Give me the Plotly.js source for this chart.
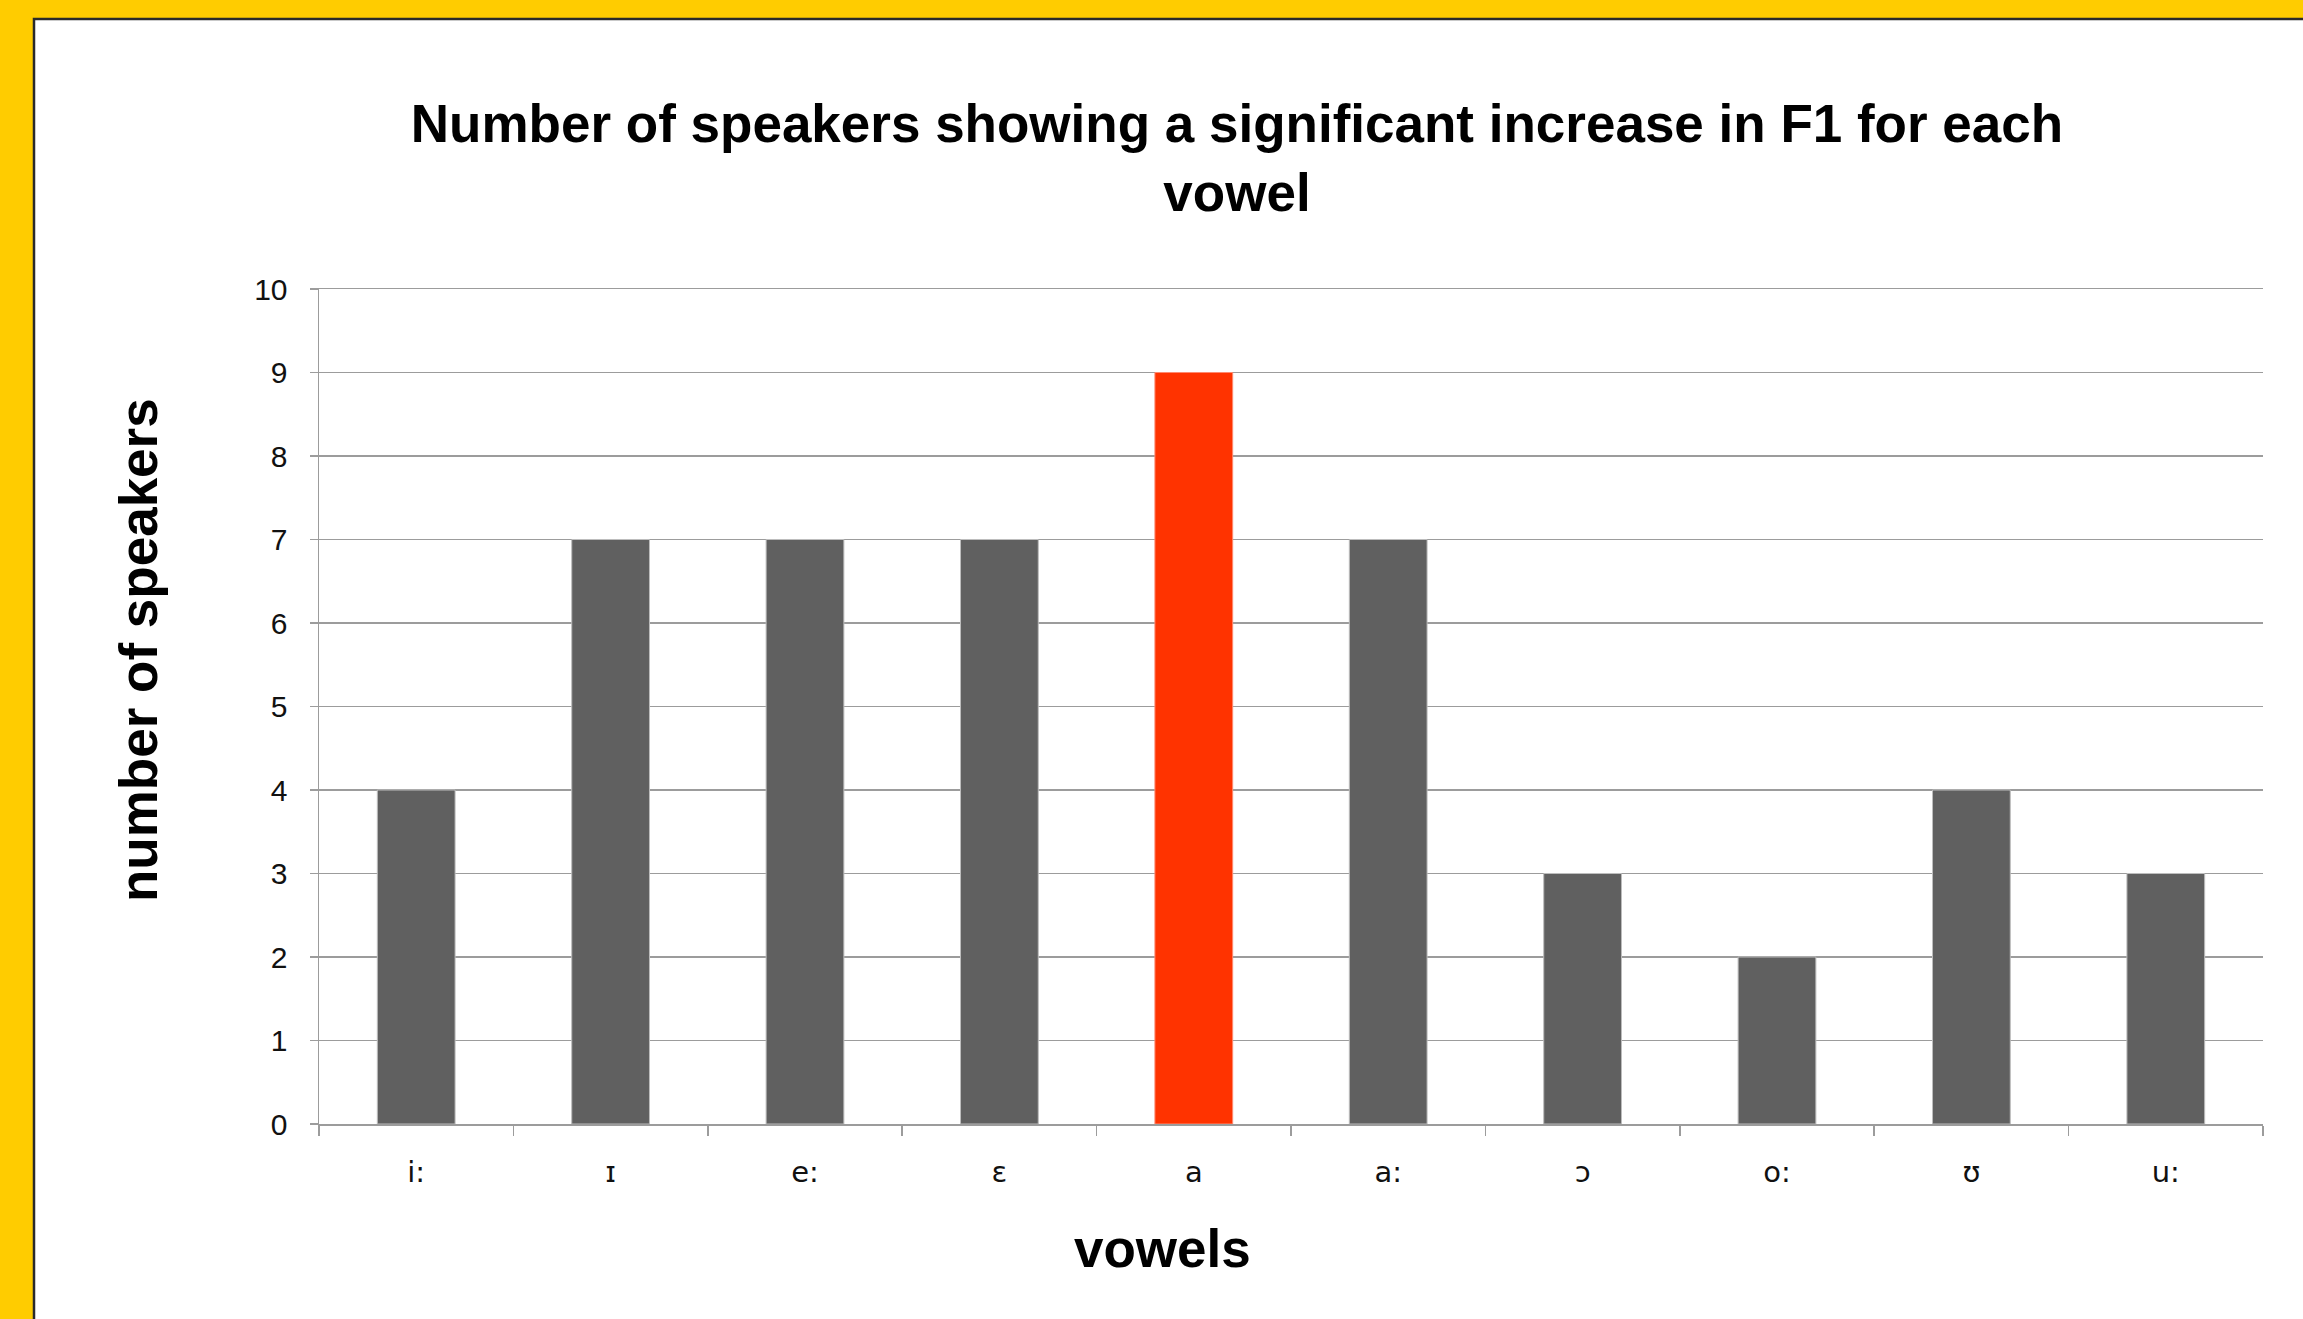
<!DOCTYPE html>
<html>
<head>
<meta charset="utf-8">
<script src="https://cdn.plot.ly/plotly-3.0.1.min.js"></script>
<style>
  html, body { margin: 0; padding: 0; background: #FFCC00; }
  #chart { width: 2303px; height: 1319px; }
</style>
</head>
<body>
<div id="chart"></div>
<script>
// ---- data ----
const vowels = ["i:", "ɪ", "e:", "ɛ", "a", "a:", "ɔ", "o:", "ʊ", "u:"];
const speakers = [4, 7, 7, 7, 9, 7, 3, 2, 4, 3];
const highlightVowel = "a";
const yTicks = [0, 1, 2, 3, 4, 5, 6, 7, 8, 9, 10];

const chartTitle = "Number of speakers showing a significant increase in F1 for each<br>vowel";
const xTitle = "vowels";
const yTitle = "number of speakers";

// ---- styles ----
const grey = "#606060";
const red = "#FF3300";
const barColors = vowels.map(v => v === highlightVowel ? red : grey);
const barEdges = vowels.map(v => v === highlightVowel ? "#ff8a70" : "#bdbdbd");

const W = 2303, H = 1319;
const L = 319, R = 40, T = 289, B = 195;
const plotW = W - L - R, plotH = H - T - B;
const px2x = px => (px - L) / plotW;
const px2y = py => (H - B - py) / plotH;

const trace = {
  type: "bar",
  x: vowels,
  y: speakers,
  marker: { color: barColors, line: { color: barEdges, width: 1 } },
  hoverinfo: "x+y"
};

const gridCol = "#9c9c9c";

const layout = {
  width: W, height: H,
  margin: { l: L, r: R, t: T, b: B, pad: 0 },
  paper_bgcolor: "#FFCC00",
  plot_bgcolor: "rgba(0,0,0,0)",
  showlegend: false,
  bargap: 0.6,
  font: { family: "Liberation Sans, Arial, sans-serif", color: "#000" },
  title: {
    text: chartTitle,
    font: { family: "Liberation Sans, Arial, sans-serif", size: 53, color: "#000", weight: "bold" },
    x: 1237 / W, xref: "container", xanchor: "center",
    y: 1 - 142 / H, yref: "container", yanchor: "top"
  },
  xaxis: {
    type: "category",
    tickson: "boundaries",
    ticks: "outside", ticklen: 10, tickwidth: 1.5, tickcolor: gridCol,
    showline: true, linecolor: gridCol, linewidth: 1.5, mirror: true,
    showgrid: false, zeroline: false,
    tickfont: { family: "DejaVu Sans, sans-serif", size: 29, color: "#111" },
    ticklabelstandoff: 22,
    fixedrange: true
  },
  yaxis: {
    range: [0, 10],
    tickvals: yTicks,
    ticktext: yTicks.map(String),
    ticks: "outside", ticklen: 8, tickwidth: 1.5, tickcolor: gridCol,
    showline: true, linecolor: gridCol, linewidth: 1.5,
    showgrid: true, gridcolor: gridCol, gridwidth: 1.5,
    zeroline: false,
    tickfont: { family: "Liberation Sans, Arial, sans-serif", size: 30, color: "#111" },
    ticklabelstandoff: 16,
    fixedrange: true
  },
  shapes: [
    {
      type: "rect", layer: "below",
      xref: "paper", yref: "paper",
      x0: px2x(34), x1: px2x(W + 20),
      y0: px2y(H + 20), y1: px2y(19),
      fillcolor: "#ffffff",
      line: { color: "#2a2a2a", width: 2.5 }
    }
  ],
  annotations: [
    {
      text: "<b>" + xTitle + "</b>",
      xref: "paper", yref: "paper",
      x: px2x(1162), y: px2y(1248),
      xanchor: "center", yanchor: "middle",
      showarrow: false,
      font: { family: "Liberation Sans, Arial, sans-serif", size: 53, color: "#000" }
    },
    {
      text: "<b>" + yTitle + "</b>",
      xref: "paper", yref: "paper",
      x: px2x(138), y: px2y(650),
      xanchor: "center", yanchor: "middle",
      textangle: -90,
      showarrow: false,
      font: { family: "Liberation Sans, Arial, sans-serif", size: 53, color: "#000" }
    }
  ]
};

Plotly.newPlot("chart", [trace], layout, { displayModeBar: false, staticPlot: true });
</script>
</body>
</html>
